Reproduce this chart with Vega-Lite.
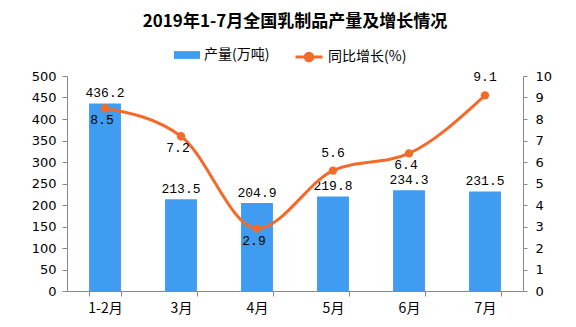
{
  "$schema": "https://vega.github.io/schema/vega-lite/v6.json",
  "autosize": {"type": "none"},
  "width": 456,
  "height": 215,
  "padding": {"left": 67, "top": 76, "right": 53, "bottom": 36},
  "background": "white",
  "title": {
    "text": "2019年1-7月全国乳制品产量及增长情况",
    "font": "Noto Sans CJK SC",
    "fontSize": 17,
    "fontWeight": "bold",
    "color": "#000000",
    "anchor": "middle",
    "offset": 11
  },
  "data": {
    "values": [
      {"month": "1-2月", "output": 436.2, "growth": 8.5},
      {"month": "3月", "output": 213.5, "growth": 7.2},
      {"month": "4月", "output": 204.9, "growth": 2.9},
      {"month": "5月", "output": 219.8, "growth": 5.6},
      {"month": "6月", "output": 234.3, "growth": 6.4},
      {"month": "7月", "output": 231.5, "growth": 9.1}
    ]
  },
  "config": {
    "view": {"stroke": null},
    "axis": {
      "domainColor": "#888888",
      "tickColor": "#888888",
      "labelColor": "#000000",
      "labelFont": "DejaVu Sans",
      "labelFontSize": 13,
      "labelOverlap": false,
      "grid": false
    },
    "legend": {
      "orient": "none",
      "labelFont": "Noto Sans CJK SC",
      "labelFontSize": 14,
      "labelColor": "#000000",
      "labelOffset": 4
    }
  },
  "encoding": {
    "x": {
      "field": "month",
      "type": "nominal",
      "sort": null,
      "scale": {"paddingInner": 0.58, "paddingOuter": 0.29},
      "axis": {
        "title": null,
        "labelAngle": 0,
        "tickBand": "extent",
        "tickSize": 5,
        "labelPadding": 5,
        "labelFont": "Noto Sans CJK SC",
        "labelFontSize": 14
      }
    }
  },
  "layer": [
    {
      "encoding": {
        "y": {
          "field": "output",
          "type": "quantitative",
          "scale": {"domain": [0, 500], "nice": false},
          "axis": {
            "title": null,
            "tickCount": 10,
            "labelOverlap": false,
            "tickSize": 5,
            "labelPadding": 6
          }
        }
      },
      "layer": [
        {
          "mark": {"type": "bar", "color": "#3F9CF1"},
          "encoding": {
            "color": {
              "datum": "产量(万吨)",
              "type": "nominal",
              "scale": {"range": ["#3F9CF1"]},
              "legend": {
                "title": null,
                "legendX": 107,
                "legendY": -34,
                "symbolType": "M-1,-0.3H1V0.3H-1Z",
                "symbolSize": 676,
                "symbolStrokeWidth": 0
              }
            }
          }
        },
        {
          "mark": {"type": "text", "baseline": "bottom", "dy": -3, "font": "Liberation Mono", "fontSize": 13, "color": "#000000"},
          "encoding": {
            "text": {"field": "output", "type": "quantitative", "format": ".1f"}
          }
        }
      ]
    },
    {
      "encoding": {
        "y": {
          "field": "growth",
          "type": "quantitative",
          "scale": {"domain": [0, 10], "nice": false},
          "axis": {
            "orient": "right",
            "title": null,
            "tickCount": 10,
            "labelOverlap": false,
            "tickSize": 4,
            "labelPadding": 8
          }
        }
      },
      "layer": [
        {
          "mark": {"type": "line", "interpolate": "monotone", "strokeWidth": 3, "color": "#F26B2A"},
          "encoding": {
            "stroke": {
              "datum": "同比增长(%)",
              "type": "nominal",
              "scale": {"range": ["#F26B2A"]},
              "legend": {
                "title": null,
                "legendX": 227,
                "legendY": -34,
                "symbolType": "M-1,0H1M0.28,0A0.28,0.28,0,1,1,-0.28,0A0.28,0.28,0,1,1,0.28,0",
                "symbolSize": 729,
                "symbolStrokeWidth": 3,
                "symbolFillColor": "#F26B2A"
              }
            }
          }
        },
        {
          "mark": {"type": "point", "filled": true, "size": 70, "opacity": 1, "color": "#F26B2A"},
          "encoding": {}
        },
        {
          "transform": [{"filter": {"field": "month", "oneOf": ["1-2月", "3月", "4月", "6月"]}}],
          "mark": {"type": "text", "baseline": "top", "dy": 6, "dx": -3, "font": "Liberation Mono", "fontSize": 13, "color": "#000000"},
          "encoding": {
            "text": {"field": "growth", "type": "quantitative", "format": ".1f"}
          }
        },
        {
          "transform": [{"filter": {"field": "month", "oneOf": ["5月", "7月"]}}],
          "mark": {"type": "text", "baseline": "bottom", "dy": -11, "font": "Liberation Mono", "fontSize": 13, "color": "#000000"},
          "encoding": {
            "text": {"field": "growth", "type": "quantitative", "format": ".1f"}
          }
        }
      ]
    }
  ],
  "resolve": {"scale": {"y": "independent"}}
}
